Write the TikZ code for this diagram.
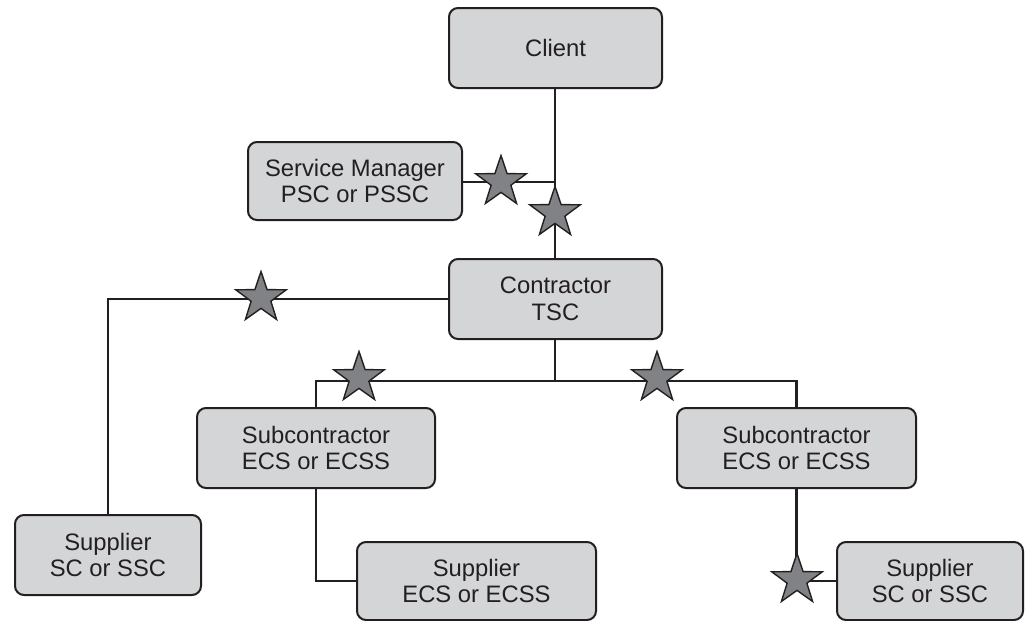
\documentclass[tikz,border=0pt]{standalone}
\usepackage{fontspec}
\setmainfont{Liberation Sans}
\usetikzlibrary{shapes.geometric}
\definecolor{boxfill}{HTML}{D4D5D7}
\definecolor{starfill}{HTML}{808286}
\definecolor{ink}{HTML}{231F20}
\begin{document}
\begin{tikzpicture}[x=1pt,y=-1pt,
  box/.style={draw=ink,line width=2pt,fill=boxfill,rounded corners=9pt,inner sep=0pt,
    align=center,font=\fontsize{23.8pt}{26.6pt}\selectfont,text=ink},
  conn/.style={draw=ink,line width=2.4pt},
  starmark/.style={star,star points=5,star point ratio=2.55,minimum size=53pt,inner sep=0pt,
    draw=ink,line width=1.4pt,fill=starfill}]
\useasboundingbox (0,0) rectangle (1026,621);
\node[box,minimum width=213pt,minimum height=80pt] (client) at (555.5,48) {Client};
\node[box,minimum width=214pt,minimum height=78pt] (sm) at (355,181) {Service Manager\\PSC or PSSC};
\node[box,minimum width=213pt,minimum height=80pt] (con) at (555.5,299) {Contractor\\TSC};
\node[box,minimum width=238pt,minimum height=80pt] (subL) at (316,448) {Subcontractor\\ECS or ECSS};
\node[box,minimum width=239pt,minimum height=80pt] (subR) at (796.5,448) {Subcontractor\\ECS or ECSS};
\node[box,minimum width=186pt,minimum height=80pt] (supL) at (108,555) {Supplier\\SC or SSC};
\node[box,minimum width=239pt,minimum height=78pt] (supM) at (476.5,581) {Supplier\\ECS or ECSS};
\node[box,minimum width=186pt,minimum height=78pt] (supR) at (930,581) {Supplier\\SC or SSC};
\coordinate (smj) at (555,182);
\coordinate (conL) at (108,299);
\coordinate (conS) at (555,381);
\coordinate (bl) at (316,381);
\coordinate (br) at (796.5,381);
\coordinate (ml) at (316,581);
\coordinate (mr) at (796.5,581);
\draw[conn] (client.south -| smj) -- (con.north -| smj);
\draw[conn] (sm.east |- smj) -- (smj);
\draw[conn] (con.west |- conL) -- (conL) -- (supL.north);
\draw[conn] (con.south -| conS) -- (conS);
\draw[conn] (subL.north -| bl) -- (bl) -- (br) -- (subR.north -| br);
\draw[conn] (subL.south -| ml) -- (ml) -- (supM.west |- ml);
\draw[conn] (subR.south -| mr) -- (mr) -- (supR.west |- mr);
\node[starmark] (s1) at (501,182) {};
\node[starmark] (s2) at (555,213) {};
\node[starmark] (s3) at (261,298) {};
\node[starmark] (s4) at (359,378) {};
\node[starmark] (s5) at (657,378) {};
\node[starmark] (s6) at (797,580) {};
\end{tikzpicture}
\end{document}
